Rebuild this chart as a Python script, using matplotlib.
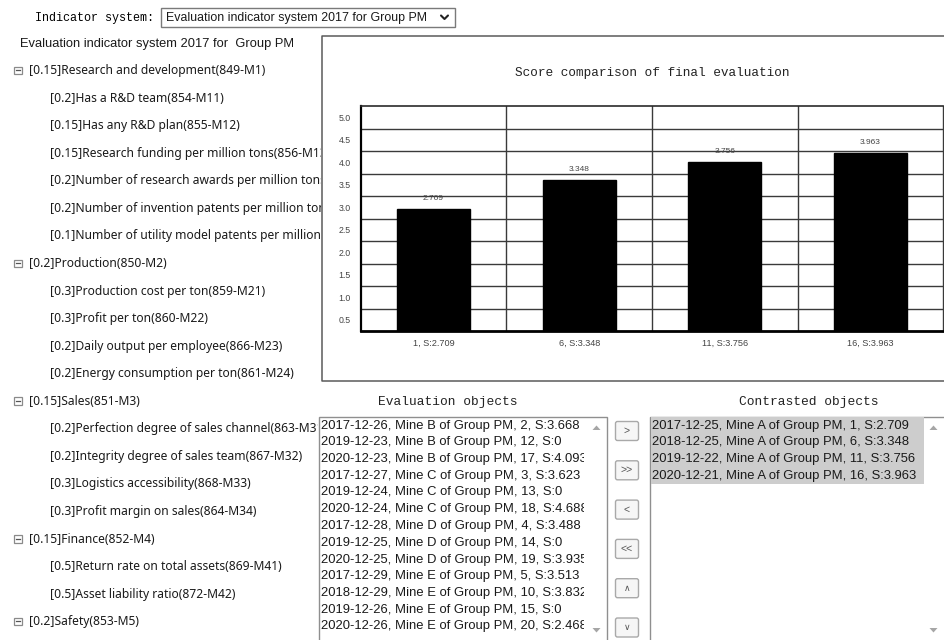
import matplotlib
matplotlib.use("Agg")
import matplotlib.pyplot as plt
from matplotlib.patches import Rectangle, FancyBboxPatch, Polygon
from matplotlib.transforms import Bbox
import numpy as np

# ---------------- data ----------------
categories = ["1, S:2.709", "6, S:3.348", "11, S:3.756", "16, S:3.963"]
scores = [2.709, 3.348, 3.756, 3.963]
value_labels = ["2.709", "3.348", "3.756", "3.963"]
ytick_values = [0.5, 1.0, 1.5, 2.0, 2.5, 3.0, 3.5, 4.0, 4.5, 5.0]
ytick_labels = ["0.5", "1.0", "1.5", "2.0", "2.5", "3.0", "3.5", "4.0", "4.5", "5.0"]
chart_title = "Score comparison of final evaluation"

system_label = "Indicator system:"
system_choice = "Evaluation indicator system 2017 for Group PM"
tree_root = "Evaluation indicator system 2017 for  Group PM"
tree_labels = [
    "[0.15]Research and development(849-M1)",
    "[0.2]Has a R&D team(854-M11)",
    "[0.15]Has any R&D plan(855-M12)",
    "[0.15]Research funding per million tons(856-M13",
    "[0.2]Number of research awards per million tons(",
    "[0.2]Number of invention patents per million ton",
    "[0.1]Number of utility model patents per million",
    "[0.2]Production(850-M2)",
    "[0.3]Production cost per ton(859-M21)",
    "[0.3]Profit per ton(860-M22)",
    "[0.2]Daily output per employee(866-M23)",
    "[0.2]Energy consumption per ton(861-M24)",
    "[0.15]Sales(851-M3)",
    "[0.2]Perfection degree of sales channel(863-M31",
    "[0.2]Integrity degree of sales team(867-M32)",
    "[0.3]Logistics accessibility(868-M33)",
    "[0.3]Profit margin on sales(864-M34)",
    "[0.15]Finance(852-M4)",
    "[0.5]Return rate on total assets(869-M41)",
    "[0.5]Asset liability ratio(872-M42)",
    "[0.2]Safety(853-M5)",
]
tree_levels = [0, 1, 1, 1, 1, 1, 1, 0, 1, 1, 1, 1, 0, 1, 1, 1, 1, 0, 1, 1, 0]

eval_title = "Evaluation objects"
eval_objects = [
    "2017-12-26, Mine B of Group PM, 2, S:3.668",
    "2019-12-23, Mine B of Group PM, 12, S:0",
    "2020-12-23, Mine B of Group PM, 17, S:4.093",
    "2017-12-27, Mine C of Group PM, 3, S:3.623",
    "2019-12-24, Mine C of Group PM, 13, S:0",
    "2020-12-24, Mine C of Group PM, 18, S:4.688",
    "2017-12-28, Mine D of Group PM, 4, S:3.488",
    "2019-12-25, Mine D of Group PM, 14, S:0",
    "2020-12-25, Mine D of Group PM, 19, S:3.935",
    "2017-12-29, Mine E of Group PM, 5, S:3.513",
    "2018-12-29, Mine E of Group PM, 10, S:3.832",
    "2019-12-26, Mine E of Group PM, 15, S:0",
    "2020-12-26, Mine E of Group PM, 20, S:2.468",
]
contrast_title = "Contrasted objects"
contrasted_objects = [
    "2017-12-25, Mine A of Group PM, 1, S:2.709",
    "2018-12-25, Mine A of Group PM, 6, S:3.348",
    "2019-12-22, Mine A of Group PM, 11, S:3.756",
    "2020-12-21, Mine A of Group PM, 16, S:3.963",
]
button_labels = [">", ">>", "<", "<<", "\u2227", "\u2228"]

# ---------------- figure ----------------
W, H = 945, 640
fig = plt.figure(figsize=(W / 100, H / 100), dpi=100)
fig.patch.set_facecolor("white")
bg = fig.add_axes([0, 0, 1, 1])
bg.set_xlim(0, W)
bg.set_ylim(H, 0)
bg.axis("off")
renderer = fig.canvas.get_renderer()

MONO = ["Liberation Mono", "DejaVu Sans Mono"]
ARIAL = ["Liberation Sans", "DejaVu Sans"]
SEGOE = ["Noto Sans", "DejaVu Sans"]
SMALL = ["Liberation Sans", "DejaVu Sans"]


def fit_size(s, width, family, ref=10.0):
    t = fig.text(0, 0, s, family=family, fontsize=ref)
    w = t.get_window_extent(renderer).width
    t.remove()
    return ref * width / w


def clip_x(t, xmax):
    t.set_clip_box(Bbox.from_extents(0, 0, xmax, H))
    t.set_clip_on(True)


TXT = "#1a1a1a"

# ---- header: indicator system selector ----
fs_mono = fit_size(system_label, 120, MONO)
bg.text(35, 17.5, system_label, family=MONO, fontsize=fs_mono, color="black", va="center")
bg.add_patch(Rectangle((161, 8), 294, 19, fc="white", ec="#7a7a7a", lw=1))
fs_sel = fit_size(system_choice, 262, ARIAL)
bg.text(166.5, 17.5, system_choice, family=ARIAL, fontsize=fs_sel, color=TXT, va="center")
bg.plot([441, 444.5, 448], [15.5, 19, 15.5], color="#222", lw=1.5, solid_capstyle="round")

# ---- tree ----
fs_root = fit_size(tree_root, 275, ARIAL)
bg.text(20.5, 44, tree_root, family=ARIAL, fontsize=fs_root, color=TXT, va="center")
fs_tree = fit_size(tree_labels[0], 236, SEGOE)
for i, (lab, lev) in enumerate(zip(tree_labels, tree_levels)):
    y = 70.7 + 27.55 * i
    x = 29 if lev == 0 else 49.5
    t = bg.text(x, y, lab, family=SEGOE, fontsize=fs_tree, color=TXT, va="center")
    clip_x(t, 321 if y < 410 else 318)
    if lev == 0:
        bg.add_patch(Rectangle((14, y - 4), 7.5, 7.5, fc="white", ec="#8a8a8a", lw=0.9))
        bg.plot([15.8, 19.8], [y - 0.25, y - 0.25], color="#555", lw=0.9)

# ---- chart frame ----
bg.plot([946, 322, 322, 946], [36, 36, 381, 381], color="#5a5a5a", lw=1.1)
fs_title = fit_size(chart_title, 276, MONO)
bg.text(652, 73, chart_title, family=MONO, fontsize=fs_title, color="#222", ha="center", va="center")

ax = fig.add_axes([360.7 / W, 1 - 331 / H, 582.6 / W, 225 / H])
xpos = np.arange(len(categories))
ax.bar(xpos, scores, width=0.5, color="black", edgecolor="black", zorder=3)
ax.set_xlim(-0.5, len(categories) - 0.5)
ax.set_ylim(0, 5)
for g in ytick_values[:-1]:
    ax.axhline(g, color="#3a3a3a", lw=1.0, zorder=1)
for v in xpos[:-1] + 0.5:
    ax.axvline(v, color="#3a3a3a", lw=1.0, zorder=1)
ax.set_yticks(np.array(ytick_values) - 0.25)
ax.set_yticklabels(ytick_labels)
ax.set_xticks(xpos)
ax.set_xticklabels(categories)
for lbl in ax.get_yticklabels():
    lbl.set_family(SMALL)
    lbl.set_fontsize(6.3)
    lbl.set_color("#444")
for lbl in ax.get_xticklabels():
    lbl.set_family(SMALL)
    lbl.set_fontsize(6.6)
    lbl.set_color("#444")
ax.tick_params(axis="y", length=0, pad=7.0)
ax.tick_params(axis="x", length=0, pad=5.5)
for xi, s, lab in zip(xpos, scores, value_labels):
    ax.annotate(lab, (xi, s), xytext=(0, 7.5), textcoords="offset points",
                ha="center", va="center", family=SMALL, fontsize=6.0, color="#444", zorder=4)
for side, lw, c in [("left", 1.6, "black"), ("bottom", 2.0, "black"), ("top", 1.2, "#2a2a2a"), ("right", 1.0, "#3a3a3a")]:
    ax.spines[side].set_linewidth(lw)
    ax.spines[side].set_color(c)
ax.set_facecolor("white")

# ---- list titles ----
fs_lt = fit_size(eval_title, 140, MONO)
bg.text(448, 401.5, eval_title, family=MONO, fontsize=fs_lt, color="#222", ha="center", va="center")
bg.text(809, 401.5, contrast_title, family=MONO, fontsize=fs_lt, color="#222", ha="center", va="center")

# ---- list boxes ----
fs_list = fit_size(eval_objects[0], 259, ARIAL)
row_h = 16.75
# left
bg.add_patch(Rectangle((318.5, 416.5), 288, 240, fc="white", ec="#8f8f8f", lw=1, zorder=1))
for i, s in enumerate(eval_objects):
    t = bg.text(320.7, 425.5 + row_h * i, s, family=ARIAL, fontsize=fs_list, color=TXT, va="center", zorder=3)
    clip_x(t, 583.5)
# right
bg.add_patch(Rectangle((649.5, 416.5), 300, 240, fc="white", ec="#8f8f8f", lw=1, zorder=1))
bg.add_patch(Rectangle((650.5, 417), 273, row_h * len(contrasted_objects), fc="#cdcdcd", ec="none", zorder=2))
for i, s in enumerate(contrasted_objects):
    t = bg.text(651.7, 425.5 + row_h * i, s, family=ARIAL, fontsize=fs_list, color=TXT, va="center", zorder=3)
    clip_x(t, 923)

# scrollbar arrows
for cx in (596.5, 933.5):
    bg.add_patch(Polygon([[cx - 4, 430], [cx + 4, 430], [cx, 425.5]], closed=True, fc="#a6a6a6", ec="none", zorder=3))
    bg.add_patch(Polygon([[cx - 4, 628], [cx + 4, 628], [cx, 632.5]], closed=True, fc="#a6a6a6", ec="none", zorder=3))

# ---- buttons ----
for i, lab in enumerate(button_labels):
    cy = 431 + 39.3 * i
    bg.add_patch(FancyBboxPatch((615.5, cy - 9.5), 23, 19, boxstyle="round,pad=0,rounding_size=2",
                                fc="#f6f6f6", ec="#a9a9a9", lw=1, zorder=2))
    fam = ARIAL if i < 4 else ["DejaVu Sans"]
    bg.text(627, cy, lab, family=fam, fontsize=7.5 if i < 4 else 6.5,
            color="#555", ha="center", va="center", zorder=3)

fig.savefig("out.png", dpi=100, facecolor="white")
